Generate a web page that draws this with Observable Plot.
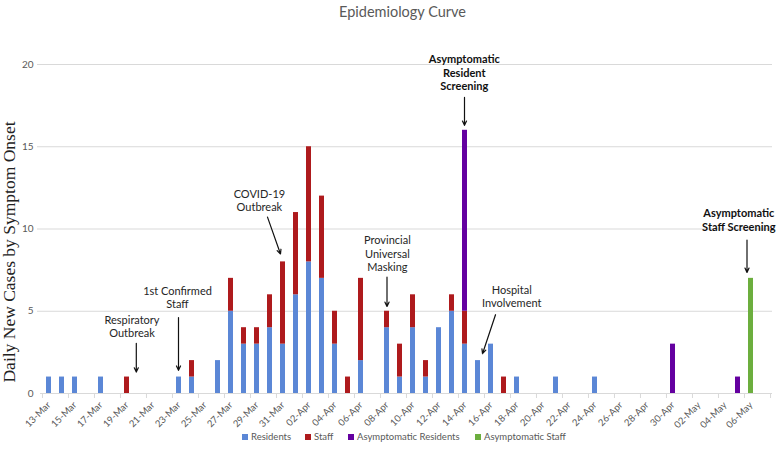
<!DOCTYPE html>
<html><head><meta charset="utf-8">
<script src="https://cdn.jsdelivr.net/npm/d3@7"></script>
<script src="https://cdn.jsdelivr.net/npm/@observablehq/plot@0.6"></script>
<style>
body{margin:0;background:#fff;font-family:Lato,sans-serif;width:777px;height:455px;overflow:hidden;position:relative}
#title{position:absolute;top:3px;left:14px;width:777px;text-align:center;font-size:14.5px;line-height:17px;color:#595959}
#chart{position:absolute;top:25px;left:0}
.item{position:absolute;top:431px;display:flex;align-items:center;font-size:9.5px;color:#595959;white-space:nowrap;line-height:12px}
.sw{width:6px;height:6px;margin-right:3px}
</style></head>
<body>
<div id="title">Epidemiology Curve</div>
<div id="chart"></div>
<div id="legend"></div>
<script>
const dates = [
  "13-Mar","14-Mar","15-Mar","16-Mar","17-Mar","18-Mar","19-Mar","20-Mar","21-Mar","22-Mar",
  "23-Mar","24-Mar","25-Mar","26-Mar","27-Mar","28-Mar","29-Mar","30-Mar","31-Mar","01-Apr",
  "02-Apr","03-Apr","04-Apr","05-Apr","06-Apr","07-Apr","08-Apr","09-Apr","10-Apr","11-Apr",
  "12-Apr","13-Apr","14-Apr","15-Apr","16-Apr","17-Apr","18-Apr","19-Apr","20-Apr","21-Apr",
  "22-Apr","23-Apr","24-Apr","25-Apr","26-Apr","27-Apr","28-Apr","29-Apr","30-Apr","01-May",
  "02-May","03-May","04-May","05-May","06-May","07-May"
];
const tickLabels = [
  "13-Mar","15-Mar","17-Mar","19-Mar","21-Mar","23-Mar","25-Mar","27-Mar","29-Mar","31-Mar",
  "02-Apr","04-Apr","06-Apr","08-Apr","10-Apr","12-Apr","14-Apr","16-Apr","18-Apr","20-Apr",
  "22-Apr","24-Apr","26-Apr","28-Apr","30-Apr","02-May","04-May","06-May"
];
const residents = [
  1,1,1,0,1,0,0,0,0,0,
  1,1,0,2,5,3,3,4,3,6,
  8,7,3,0,2,0,4,1,4,1,
  4,5,3,2,3,0,1,0,0,1,
  0,0,1,0,0,0,0,0,0,0,
  0,0,0,0,0,0
];
const staff = [
  0,0,0,0,0,0,1,0,0,0,
  0,1,0,0,2,1,1,2,5,5,
  7,5,2,1,5,0,1,2,2,1,
  0,1,2,0,0,1,0,0,0,0,
  0,0,0,0,0,0,0,0,0,0,
  0,0,0,0,0,0
];
const asymResidents = [
  0,0,0,0,0,0,0,0,0,0,
  0,0,0,0,0,0,0,0,0,0,
  0,0,0,0,0,0,0,0,0,0,
  0,0,11,0,0,0,0,0,0,0,
  0,0,0,0,0,0,0,0,3,0,
  0,0,0,1,0,0
];
const asymStaff = [
  0,0,0,0,0,0,0,0,0,0,
  0,0,0,0,0,0,0,0,0,0,
  0,0,0,0,0,0,0,0,0,0,
  0,0,0,0,0,0,0,0,0,0,
  0,0,0,0,0,0,0,0,0,0,
  0,0,0,0,7,0
];
const seriesNames = ["Residents","Staff","Asymptomatic Residents","Asymptomatic Staff"];
const seriesValues = [residents, staff, asymResidents, asymStaff];
const colors = ["#5b87d6","#ae1a1d","#6400a0","#6cae3e"];
const yTicks = [0,5,10,15,20];
const yLabel = "Daily New Cases by Symptom Onset";

const annotations = [
  {label:"Respiratory\nOutbreak", x:"20-Mar", y:4.08, dx:-8, bold:false},
  {label:"1st Confirmed\nStaff", x:"23-Mar", y:5.87, dx:-1.5, bold:false},
  {label:"COVID-19\nOutbreak", x:"29-Mar", y:11.76, dx:2.4, bold:false},
  {label:"Provincial\nUniversal\nMasking", x:"08-Apr", y:8.52, dx:0.4, bold:false},
  {label:"Asymptomatic\nResident\nScreening", x:"14-Apr", y:19.53, dx:-0.7, bold:true},
  {label:"Hospital\nInvolvement", x:"18-Apr", y:5.93, dx:-5.3, bold:false},
  {label:"Asymptomatic\nStaff Screening", x:"05-May", y:10.56, dx:0.8, bold:true}
];
const arrows = [
  {x1:"20-Mar", x2:"20-Mar", y1:3.05, y2:1.3, dx:-3.7},
  {x1:"23-Mar", x2:"23-Mar", y1:4.62, y2:1.41, dx:-0.5},
  {x1:"30-Mar", x2:"31-Mar", y1:10.72, y2:8.48, dx:-2.5},
  {x1:"08-Apr", x2:"08-Apr", y1:7.07, y2:5.29, dx:0},
  {x1:"14-Apr", x2:"14-Apr", y1:18.0, y2:16.3, dx:-0.5},
  {x1:"16-Apr", x2:"15-Apr", y1:4.79, y2:2.42, dx:4.5},
  {x1:"06-May", x2:"06-May", y1:9.33, y2:7.36, dx:-4}
];

const rows = [];
seriesNames.forEach((s, si) => {
  dates.forEach((d, i) => rows.push({date: d, series: s, value: seriesValues[si][i]}));
});

const step = 732 / dates.length;

const chart = Plot.plot({
  width: 777,
  height: 405,
  marginLeft: 40,
  marginRight: 5,
  marginTop: 39,
  marginBottom: 37,
  style: {fontFamily: "Lato, sans-serif", fontSize: "9px", color: "#595959", background: "transparent", overflow: "visible"},
  x: {type: "band", domain: dates, paddingInner: 0.6, paddingOuter: 0.3, align: 0.5, label: null},
  y: {domain: [0, 20], label: null},
  color: {domain: seriesNames, range: colors},
  marks: [
    Plot.gridY(yTicks.slice(1), {stroke: "#d9d9d9", strokeOpacity: 1, insetLeft: -3}),
    Plot.ruleY([0], {stroke: "#d9d9d9", strokeWidth: 1}),
    Plot.barY(rows, {x: "date", y: "value", fill: "series"}),
    Plot.axisY({ticks: yTicks, tickSize: 0, tickPadding: 7, fontSize: 10, label: null}),
    Plot.axisX({ticks: tickLabels, tickSize: 0, tickPadding: 10, tickRotate: -45, fontSize: 9.5, label: null}),
    Plot.axisX({ticks: tickLabels, tickSize: 5, tickFormat: () => "", dx: -step / 2, stroke: "#d9d9d9", label: null}),
    Plot.axisX({ticks: ["07-May"], tickSize: 5, tickFormat: () => "", dx: step / 2, stroke: "#d9d9d9", label: null}),
    ...annotations.map(a => Plot.text([a], {
      x: "x", y: "y", text: "label", dx: a.dx, fontSize: 11, lineHeight: 1.22,
      fill: a.bold ? "#111" : "#262626", fontWeight: a.bold ? "bold" : "normal",
      fontFamily: "Lato, sans-serif"
    })),
    ...arrows.map(a => Plot.arrow([a], {
      x1: "x1", x2: "x2", y1: "y1", y2: "y2", dx: a.dx,
      stroke: "#111", strokeWidth: 1.2, headLength: 6, headAngle: 50
    })),
    Plot.text([yLabel], {
      frameAnchor: "left", rotate: -90, dx: -31, dy: 23, text: d => d, textAnchor: "middle",
      fontFamily: "Liberation Serif, serif", fontSize: 17.5, fill: "#222"
    })
  ]
});
document.getElementById("chart").appendChild(chart);

const legendLeft = [242, 305, 348, 475];
const legend = document.getElementById("legend");
seriesNames.forEach((s, i) => {
  const item = document.createElement("div");
  item.className = "item";
  item.style.left = legendLeft[i] + "px";
  const sw = document.createElement("span");
  sw.className = "sw";
  sw.style.background = colors[i];
  const t = document.createElement("span");
  t.textContent = s;
  item.appendChild(sw);
  item.appendChild(t);
  legend.appendChild(item);
});
</script>
</body></html>
